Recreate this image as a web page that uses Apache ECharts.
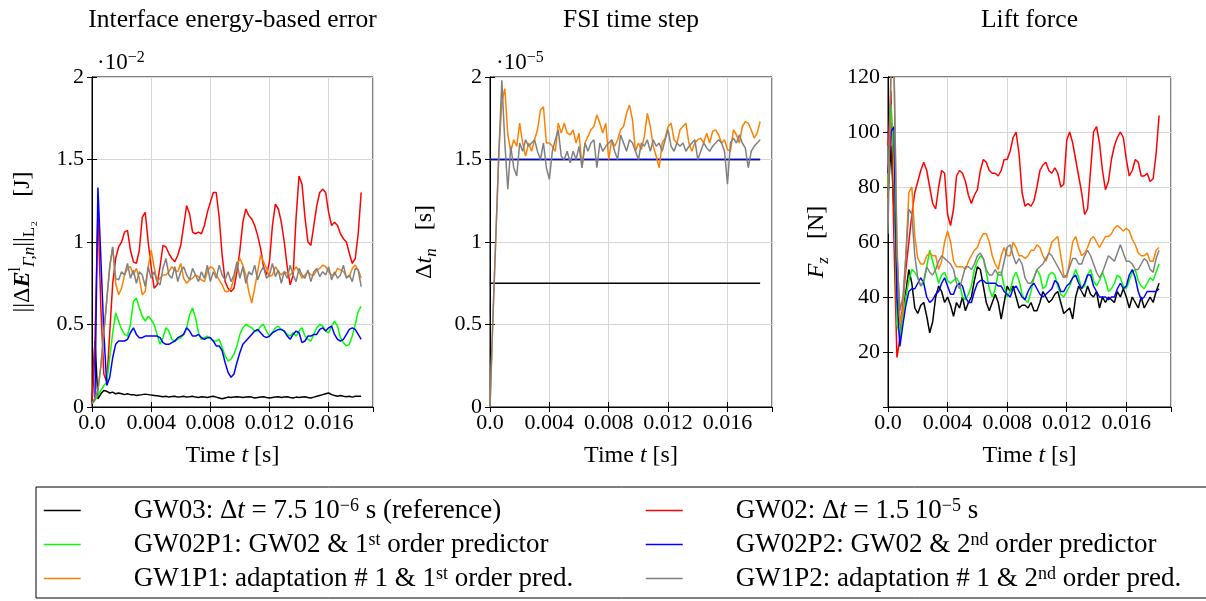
<!DOCTYPE html>
<html>
<head>
<meta charset="utf-8">
<script src="https://cdn.jsdelivr.net/npm/echarts@6/dist/echarts.min.js"></script>
<style>html,body{margin:0;padding:0;background:#fff}#c{width:1206px;height:601px}</style>
</head>
<body>
<div id="c"></div>
<script>
// time samples [s]
const T = [0,0.0002,0.0004,0.0006,0.0008,0.001,0.0012,0.0014,0.0016,0.0018,0.002,0.0022,0.0024,0.0026,0.0028,0.003,0.0032,0.0034,0.0036,0.0038,0.004,0.0042,0.0044,0.0046,0.0048,0.005,0.0052,0.0054,0.0056,0.0058,0.006,0.0062,0.0064,0.0066,0.0068,0.007,0.0072,0.0074,0.0076,0.0078,0.008,0.0082,0.0084,0.0086,0.0088,0.009,0.0092,0.0094,0.0096,0.0098,0.01,0.0102,0.0104,0.0106,0.0108,0.011,0.0112,0.0114,0.0116,0.0118,0.012,0.0122,0.0124,0.0126,0.0128,0.013,0.0132,0.0134,0.0136,0.0138,0.014,0.0142,0.0144,0.0146,0.0148,0.015,0.0152,0.0154,0.0156,0.0158,0.016,0.0162,0.0164,0.0166,0.0168,0.017,0.0172,0.0174,0.0176,0.0178,0.018,0.0182];
const T_FLAT = [0, 0.0182];

// Panel 1: interface energy-based error (units of 1e-2 J)
const E_GW03 = [0.02,0.40,0.05,0.08,0.10,0.095,0.085,0.09,0.08,0.085,0.08,0.075,0.08,0.075,0.075,0.07,0.072,0.075,0.078,0.075,0.072,0.07,0.068,0.065,0.062,0.065,0.06,0.063,0.065,0.06,0.062,0.065,0.06,0.062,0.065,0.06,0.058,0.062,0.06,0.058,0.062,0.065,0.06,0.055,0.05,0.055,0.06,0.058,0.06,0.062,0.06,0.058,0.06,0.062,0.06,0.055,0.058,0.06,0.062,0.058,0.055,0.058,0.06,0.062,0.058,0.06,0.062,0.058,0.055,0.06,0.058,0.06,0.062,0.058,0.055,0.06,0.065,0.07,0.075,0.08,0.085,0.075,0.07,0.065,0.07,0.065,0.062,0.065,0.06,0.065,0.065,0.065];
const E_GW02 = [0.02,0.4,1.2,0.6,0.2,0.15,0.45,0.75,0.9,0.97,1.0,1.06,1.07,0.95,0.88,0.87,0.95,1.15,1.18,1.0,0.85,0.72,0.74,0.85,0.98,0.97,0.93,0.9,0.88,0.92,0.98,1.1,1.22,1.17,1.06,1.05,1.06,1.05,1.1,1.18,1.24,1.3,1.3,1.15,0.92,0.76,0.72,0.7,0.72,0.82,0.95,1.12,1.2,1.16,1.14,1.1,1.04,0.96,0.85,0.8,0.88,1.1,1.23,1.2,1.12,1.0,0.85,0.74,0.8,1.15,1.4,1.35,1.15,1.0,0.98,1.1,1.22,1.3,1.32,1.3,1.18,1.1,1.12,1.1,1.05,1.02,1.0,0.93,0.87,0.9,1.05,1.3];
const E_GW02P1 = [0.02,0.04,0.07,0.1,0.13,0.15,0.3,0.45,0.57,0.52,0.47,0.44,0.43,0.5,0.64,0.66,0.6,0.55,0.52,0.55,0.53,0.5,0.44,0.38,0.42,0.48,0.46,0.41,0.4,0.41,0.42,0.44,0.48,0.56,0.6,0.54,0.45,0.41,0.42,0.43,0.42,0.4,0.4,0.41,0.36,0.31,0.28,0.29,0.32,0.37,0.44,0.48,0.5,0.49,0.48,0.46,0.46,0.49,0.5,0.46,0.43,0.45,0.48,0.49,0.47,0.46,0.44,0.43,0.45,0.43,0.46,0.48,0.43,0.41,0.4,0.44,0.48,0.5,0.49,0.46,0.45,0.49,0.52,0.49,0.42,0.39,0.37,0.38,0.43,0.5,0.58,0.61];
const E_GW02P2 = [0.02,0.05,1.33,0.9,0.45,0.13,0.18,0.3,0.38,0.4,0.4,0.4,0.41,0.45,0.48,0.44,0.42,0.42,0.43,0.43,0.43,0.43,0.43,0.42,0.39,0.38,0.38,0.39,0.4,0.42,0.43,0.44,0.48,0.46,0.43,0.43,0.44,0.42,0.41,0.42,0.42,0.4,0.37,0.37,0.34,0.27,0.21,0.18,0.2,0.27,0.33,0.38,0.4,0.42,0.44,0.46,0.47,0.45,0.43,0.42,0.43,0.45,0.46,0.47,0.47,0.46,0.43,0.41,0.44,0.46,0.45,0.39,0.4,0.43,0.43,0.44,0.44,0.47,0.48,0.46,0.48,0.49,0.44,0.41,0.4,0.41,0.44,0.47,0.48,0.47,0.44,0.41];
const E_GW1P1 = [0.02,0.05,0.1,0.25,0.45,0.65,0.85,0.97,0.75,0.68,0.72,0.8,0.84,0.85,0.8,0.84,0.78,0.68,0.7,0.85,0.95,0.85,0.76,0.78,0.8,0.8,0.82,0.85,0.83,0.82,0.87,0.78,0.75,0.77,0.78,0.8,0.79,0.77,0.76,0.82,0.85,0.84,0.8,0.77,0.74,0.7,0.7,0.72,0.78,0.86,0.9,0.86,0.8,0.7,0.63,0.72,0.82,0.92,0.88,0.84,0.79,0.8,0.85,0.82,0.8,0.82,0.81,0.8,0.82,0.85,0.82,0.78,0.8,0.82,0.8,0.8,0.83,0.84,0.86,0.85,0.82,0.8,0.8,0.84,0.83,0.82,0.79,0.79,0.84,0.86,0.83,0.78];
const E_GW1P2 = [0.02,0.05,0.1,0.25,0.45,0.65,0.85,0.97,0.78,0.77,0.82,0.8,0.87,0.78,0.83,0.75,0.82,0.8,0.73,0.85,0.78,0.82,0.76,0.74,0.84,0.9,0.8,0.78,0.85,0.76,0.82,0.85,0.8,0.77,0.84,0.8,0.76,0.82,0.78,0.86,0.76,0.82,0.78,0.86,0.8,0.77,0.82,0.76,0.8,0.88,0.78,0.85,0.75,0.82,0.8,0.86,0.77,0.82,0.85,0.78,0.8,0.87,0.79,0.83,0.75,0.82,0.78,0.86,0.8,0.76,0.84,0.8,0.78,0.83,0.76,0.82,0.84,0.79,0.82,0.8,0.85,0.77,0.82,0.78,0.8,0.86,0.78,0.8,0.76,0.84,0.83,0.73];

// Panel 2: FSI time step (units of 1e-5 s)
const DT_GW03 = [0.75, 0.75];
const DT_GW02 = [1.5, 1.5];
const DT_GW02P1 = [1.5, 1.5];
const DT_GW02P2 = [1.5, 1.5];
const DT_GW1P1 = [0,0.55,1.05,1.55,1.85,1.93,1.65,1.55,1.62,1.58,1.72,1.6,1.52,1.6,1.55,1.62,1.68,1.8,1.82,1.6,1.6,1.58,1.55,1.72,1.66,1.72,1.66,1.65,1.68,1.6,1.66,1.45,1.6,1.64,1.68,1.7,1.77,1.72,1.66,1.72,1.5,1.62,1.58,1.62,1.68,1.7,1.78,1.83,1.74,1.55,1.6,1.56,1.64,1.78,1.7,1.58,1.52,1.45,1.6,1.63,1.7,1.72,1.62,1.6,1.68,1.7,1.72,1.6,1.55,1.6,1.62,1.63,1.6,1.66,1.6,1.67,1.68,1.65,1.6,1.62,1.56,1.55,1.68,1.65,1.6,1.7,1.73,1.72,1.68,1.63,1.66,1.73];
const DT_GW1P2 = [0,0.55,1.05,1.55,1.98,1.6,1.32,1.58,1.45,1.4,1.6,1.55,1.62,1.58,1.6,1.62,1.55,1.5,1.6,1.45,1.38,1.55,1.62,1.68,1.52,1.5,1.55,1.48,1.55,1.5,1.58,1.45,1.6,1.55,1.6,1.62,1.45,1.6,1.55,1.58,1.6,1.62,1.55,1.5,1.65,1.6,1.55,1.62,1.6,1.55,1.5,1.6,1.58,1.62,1.55,1.62,1.58,1.6,1.55,1.62,1.68,1.58,1.55,1.6,1.58,1.6,1.55,1.58,1.6,1.62,1.5,1.55,1.6,1.57,1.55,1.58,1.6,1.62,1.6,1.55,1.35,1.6,1.63,1.6,1.65,1.6,1.57,1.45,1.55,1.58,1.6,1.62];

// Panel 3: lift force [N]
const F_GW03 = [76,95,72,55,30,35,42,50,45,36,34,37,38,33,27,31,40,44,42,38,40,37,33,38,36,40,35,38,40,46,51,50,44,38,35,38,41,38,32,38,44,42,44,40,36,37,37,36,38,35,35,38,42,40,38,39,41,42,38,34,35,36,32,40,44,42,40,44,41,40,42,36,40,38,40,39,38,42,40,43,40,36,40,38,36,40,36,38,40,38,42,45];
const F_GW02 = [95,115,60,18,25,38,50,60,70,78,82,86,89,86,80,74,72,80,86,85,70,66,72,84,86,85,82,77,74,77,79,86,90,89,86,85,85,84,86,90,90,93,98,100,92,78,73,74,73,75,80,86,88,89,86,85,87,85,80,81,97,100,96,90,84,78,70,72,86,100,102,96,86,79,82,90,95,98,100,98,90,84,86,90,89,84,84,85,82,83,92,106];
const F_GW02P1 = [80,110,90,30,26,33,40,46,50,49,47,44,45,51,57,53,49,45,48,49,46,45,46,47,45,40,39,41,44,50,53,55,54,49,43,40,43,49,49,44,40,42,47,49,46,41,39,38,42,47,50,48,43,44,48,49,48,44,41,40,42,44,47,50,47,43,44,48,50,46,44,46,49,46,42,43,45,48,47,44,43,46,49,50,46,44,43,45,47,46,49,52];
const F_GW02P2 = [85,100,102,40,22,30,37,42,43,43,45,47,45,40,38,39,41,42,45,47,44,41,41,44,45,44,40,38,38,42,45,46,46,45,45,45,45,44,44,42,41,40,43,44,42,40,39,42,44,45,43,41,40,41,42,43,46,45,42,42,44,45,47,48,45,43,45,48,48,44,42,40,40,40,39,40,40,43,45,43,44,48,50,47,42,39,40,42,42,42,42,43];
const F_GW1P1 = [75,120,125,60,30,35,55,78,80,62,54,52,52,55,56,55,55,50,53,60,64,60,53,51,51,51,50,53,55,57,58,61,63,63,60,55,52,50,55,58,55,55,60,58,55,55,54,55,57,57,59,58,55,53,56,60,61,62,55,48,47,53,60,62,58,55,56,58,61,62,60,58,60,62,62,63,65,66,65,64,65,64,61,59,56,55,55,56,53,53,57,58];
const F_GW1P2 = [63,125,125,55,35,40,55,72,70,55,47,44,46,51,49,48,50,53,55,54,53,52,50,45,43,47,51,51,50,52,55,56,54,50,48,48,50,48,48,53,58,59,55,52,54,52,47,45,45,47,50,51,52,54,56,55,53,51,49,47,48,51,54,54,52,52,55,57,55,52,49,47,49,52,55,54,53,56,59,56,53,53,52,50,50,52,54,53,50,49,54,57];

// axis ticks
const X_TICKS = {min: 0, max: 0.019, interval: 0.004};
const Y1_TICKS = {min: 0, max: 2, interval: 0.5};
const Y2_TICKS = {min: 0, max: 2, interval: 0.5};
const Y3_TICKS = {min: 0, max: 120, interval: 20};

const COLORS = {GW03:'#000000', GW02:'#ff0000', GW02P1:'#00ff00', GW02P2:'#0000ff', GW1P1:'#ff8000', GW1P2:'#808080'};
const EN = '\u2002';
const LEGEND_TEXT = {
  GW03: 'GW03: Δ{i|t} = 7.5' + '\u2009' + '10{sup|−6} s (reference)',
  GW02: 'GW02: Δ{i|t} = 1.5' + '\u2009' + '10{sup|−5} s',
  GW02P1: 'GW02P1: GW02 & 1{sup|st} order predictor',
  GW02P2: 'GW02P2: GW02 & 2{sup|nd} order predictor',
  GW1P1: 'GW1P1: adaptation # 1 & 1{sup|st} order pred.',
  GW1P2: 'GW1P2: adaptation # 1 & 2{sup|nd} order pred.'
};

const FONT = 'Liberation Serif';
const FS = 22;   // tick labels
const NFS = 24;  // axis names
const richBase = {
  i: {fontFamily: FONT, fontStyle: 'italic', fontSize: NFS},
  bi: {fontFamily: FONT, fontStyle: 'italic', fontWeight: 'bold', fontSize: NFS},
  sup: {fontFamily: FONT, fontSize: 16, verticalAlign: 'top', lineHeight: 14},
  sub: {fontFamily: FONT, fontSize: 17, verticalAlign: 'bottom', lineHeight: 18},
  subi: {fontFamily: FONT, fontStyle: 'italic', fontSize: 17, verticalAlign: 'bottom', lineHeight: 18}
};

const grids = [
  {left: 92, top: 77, width: 281, height: 330},
  {left: 490, top: 77, width: 282, height: 330},
  {left: 888, top: 77, width: 283, height: 330}
].map(g => Object.assign(g, {show: true, borderColor: '#000', borderWidth: 1, backgroundColor: 'transparent', containLabel: false}));

const gridLine = {show: true, lineStyle: {color: '#d6d6d6', width: 1}};
const tickStyle = {show: true, inside: true, length: 5, lineStyle: {color: '#000', width: 1}};
const lineAx = {show: true, lineStyle: {color: '#000', width: 1}};

const xAxis = [], yAxis = [];
const yTicks = [Y1_TICKS, Y2_TICKS, Y3_TICKS];
const yNames = [
  '||Δ{bi|E}{sup|l}{subi|Γ,n}||{sub|L₂}' + EN + EN + '[J]',
  'Δ{i|t}{subi|n}' + EN + ' [s]',
  '{i|F}{subi|z}' + EN + ' [N]'
];
const yGaps = [54, 50, 56];
for (let g = 0; g < 3; g++) {
  xAxis.push({
    gridIndex: g, type: 'value', ...X_TICKS, position: 'bottom',
    axisLine: lineAx, axisTick: tickStyle, splitLine: gridLine,
    axisLabel: {fontFamily: FONT, fontSize: FS, color: '#000', margin: 5, showMaxLabel: false,
      formatter: v => v === 0 ? '0.0' : v.toFixed(3)},
    name: 'Time {i|t} [s]', nameLocation: 'middle', nameGap: 37,
    nameTextStyle: {fontFamily: FONT, fontSize: NFS, color: '#000', rich: richBase}
  });
  xAxis.push({
    gridIndex: g, type: 'value', ...X_TICKS, position: 'top',
    axisLine: lineAx, axisTick: tickStyle, splitLine: {show: false}, axisLabel: {show: false}
  });
  yAxis.push({
    gridIndex: g, type: 'value', ...yTicks[g], position: 'left',
    axisLine: lineAx, axisTick: tickStyle, splitLine: gridLine,
    axisLabel: {fontFamily: FONT, fontSize: FS, color: '#000', margin: 8,
      formatter: v => (g === 2 && v === 0) ? '' : String(v)},
    name: yNames[g], nameLocation: 'middle', nameGap: yGaps[g], nameRotate: 90,
    nameTextStyle: {fontFamily: FONT, fontSize: NFS, color: '#000', lineHeight: 30, rich: richBase}
  });
  yAxis.push({
    gridIndex: g, type: 'value', ...yTicks[g], position: 'right',
    axisLine: lineAx, axisTick: tickStyle, splitLine: {show: false}, axisLabel: {show: false}
  });
}

function mk(name, g, ts, vs) {
  return {
    type: 'line', name, xAxisIndex: 2 * g, yAxisIndex: 2 * g,
    data: ts.map((t, i) => [t, vs[i]]),
    symbol: 'none', showSymbol: false, silent: true, clip: true,
    lineStyle: {color: COLORS[name], width: 1.5},
    itemStyle: {color: COLORS[name]}
  };
}

const series = [
  mk('GW03', 0, T, E_GW03), mk('GW02', 0, T, E_GW02), mk('GW02P1', 0, T, E_GW02P1),
  mk('GW02P2', 0, T, E_GW02P2), mk('GW1P1', 0, T, E_GW1P1), mk('GW1P2', 0, T, E_GW1P2),
  mk('GW03', 1, T_FLAT, DT_GW03), mk('GW02', 1, T_FLAT, DT_GW02), mk('GW02P1', 1, T_FLAT, DT_GW02P1),
  mk('GW02P2', 1, T_FLAT, DT_GW02P2), mk('GW1P1', 1, T, DT_GW1P1), mk('GW1P2', 1, T, DT_GW1P2),
  mk('GW03', 2, T, F_GW03), mk('GW02', 2, T, F_GW02), mk('GW02P1', 2, T, F_GW02P1),
  mk('GW02P2', 2, T, F_GW02P2), mk('GW1P1', 2, T, F_GW1P1), mk('GW1P2', 2, T, F_GW1P2)
];

const LFS = 27;
const legendText = {
  fontFamily: FONT, fontSize: LFS, color: '#000', lineHeight: 27, padding: [0, 0, 0, 48],
  rich: {
    i: {fontFamily: FONT, fontStyle: 'italic', fontSize: LFS, lineHeight: 27},
    sup: {fontFamily: FONT, fontSize: 18, verticalAlign: 'top', lineHeight: 14}
  }
};
const legendCommon = {
  orient: 'vertical', itemWidth: 37, itemHeight: 14, itemGap: 7, selectedMode: false,
  height: 110,
  itemStyle: {opacity: 0, borderWidth: 0},
  lineStyle: {width: 1.5},
  textStyle: legendText, formatter: n => LEGEND_TEXT[n]
};

const titleStyle = {fontFamily: FONT, fontSize: 25.5, fontWeight: 'normal', color: '#000', lineHeight: 26};
const multStyle = {fontFamily: FONT, fontSize: 23, fontWeight: 'normal', color: '#000', lineHeight: 26,
  rich: {sup: {fontFamily: FONT, fontSize: 16, verticalAlign: 'top', lineHeight: 12}}};

const option = {
  animation: false,
  backgroundColor: '#fff',
  title: [
    {text: 'Interface energy-based error', left: 232.5, top: 7, textAlign: 'center', padding: 0, textStyle: titleStyle},
    {text: 'FSI time step', left: 631, top: 7, textAlign: 'center', padding: 0, textStyle: titleStyle},
    {text: 'Lift force', left: 1029.5, top: 7, textAlign: 'center', padding: 0, textStyle: titleStyle},
    {text: '·10{sup|−2}', left: 97, top: 50, padding: 0, textStyle: multStyle},
    {text: '·10{sup|−5}', left: 496, top: 50, padding: 0, textStyle: multStyle}
  ],
  grid: grids,
  xAxis, yAxis, series,
  legend: [
    Object.assign({}, legendCommon, {
      data: ['GW03', 'GW02P1', 'GW1P1'], left: 36, top: 487,
      padding: [10, 720, 6, 7], borderColor: '#000', borderWidth: 1
    }),
    Object.assign({}, legendCommon, {
      data: ['GW02', 'GW02P2', 'GW1P2'], left: 645, top: 487, padding: [10, 0, 6, 0]
    })
  ]
};

const chart = echarts.init(document.getElementById('c'), null, {renderer: 'canvas'});
chart.setOption(option);
</script>
</body>
</html>
